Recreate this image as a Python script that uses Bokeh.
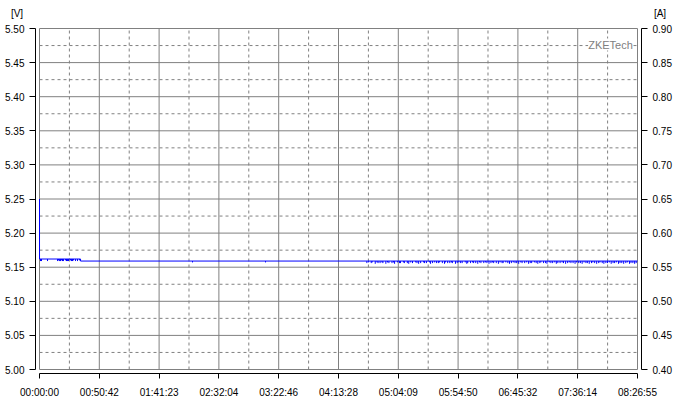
from bokeh.plotting import figure
from bokeh.models import Range1d, LinearAxis, FixedTicker, Label, NumeralTickFormatter
from bokeh.embed import file_html
from bokeh.resources import INLINE

# ---------------- data ----------------
time_labels = ["00:00:00", "00:50:42", "01:41:23", "02:32:04", "03:22:46", "04:13:28",
               "05:04:09", "05:54:50", "06:45:32", "07:36:14", "08:26:55"]
volt_ticks = [5.00, 5.05, 5.10, 5.15, 5.20, 5.25, 5.30, 5.35, 5.40, 5.45, 5.50]
amp_ticks = [0.40, 0.45, 0.50, 0.55, 0.60, 0.65, 0.70, 0.75, 0.80, 0.85, 0.90]
left_unit = "[V]"
right_unit = "[A]"
watermark = "ZKETech"

# voltage trace (minutes, volts)
volt_time_min = [0.0, 0.02, 34.8, 34.8, 506.9]
volt_values = [5.250, 5.162, 5.162, 5.159, 5.159]

# short downward spikes (minute, volts) on the early level (5.162)
early_spikes = [(0.85, 5.159), (1.7, 5.159), (6.8, 5.159), (15.3, 5.159), (16.1, 5.160),
                (16.9, 5.159), (17.8, 5.159), (18.6, 5.160), (19.5, 5.159), (20.3, 5.159),
                (22.0, 5.160), (22.9, 5.159), (23.7, 5.159), (24.6, 5.159), (26.3, 5.160),
                (27.1, 5.159), (28.0, 5.159), (28.8, 5.160), (30.5, 5.159), (32.2, 5.159),
                (33.9, 5.160)]
# spikes on the main level (5.159)
main_spikes = [(129.7, 5.157), (191.6, 5.157),
               (277.5, 5.156), (279.0, 5.157), (281.2, 5.156), (282.0, 5.157), (284.6, 5.155),
               (286.1, 5.157), (287.0, 5.156), (288.7, 5.156), (290.3, 5.157), (291.1, 5.156),
               (293.6, 5.155), (295.0, 5.157), (296.2, 5.156), (298.8, 5.156), (300.1, 5.157),
               (301.0, 5.155), (303.4, 5.157), (305.2, 5.156), (306.0, 5.156), (308.5, 5.157),
               (309.3, 5.156), (311.8, 5.156), (313.0, 5.155), (314.7, 5.157), (316.2, 5.156),
               (318.9, 5.157), (320.0, 5.156), (321.4, 5.155), (323.1, 5.156), (325.6, 5.157),
               (326.4, 5.156), (328.0, 5.156), (330.7, 5.157), (331.5, 5.155), (333.2, 5.156),
               (335.0, 5.157), (336.6, 5.156), (338.1, 5.156), (339.0, 5.157), (341.5, 5.156),
               (343.3, 5.155), (344.1, 5.157), (346.0, 5.156), (347.8, 5.156), (349.2, 5.157),
               (350.0, 5.156), (352.6, 5.155), (354.1, 5.156), (355.5, 5.157), (357.0, 5.156),
               (358.3, 5.156), (360.9, 5.157), (362.2, 5.155), (363.0, 5.156), (365.4, 5.156),
               (367.1, 5.157), (368.0, 5.156), (369.8, 5.156), (371.5, 5.155), (373.0, 5.157),
               (374.2, 5.156), (376.6, 5.156), (378.0, 5.157), (379.3, 5.156), (381.0, 5.155),
               (382.7, 5.156), (384.1, 5.157), (385.0, 5.156), (387.2, 5.156), (389.0, 5.155),
               (390.4, 5.157), (392.1, 5.156), (393.0, 5.156), (395.3, 5.157), (397.0, 5.156),
               (398.4, 5.155), (400.0, 5.156), (401.6, 5.157), (403.1, 5.156), (404.5, 5.156),
               (406.2, 5.155), (408.0, 5.157), (409.1, 5.156), (411.3, 5.156), (413.0, 5.157),
               (414.6, 5.155), (416.0, 5.156), (417.2, 5.156), (419.5, 5.157), (421.0, 5.156),
               (422.4, 5.155), (424.1, 5.156), (425.0, 5.157), (427.3, 5.156), (429.0, 5.156),
               (430.2, 5.155), (432.1, 5.157), (433.5, 5.156), (435.0, 5.156), (436.8, 5.157),
               (438.1, 5.155), (439.4, 5.156), (441.3, 5.156), (443.0, 5.157), (444.2, 5.156),
               (446.0, 5.155), (447.7, 5.156), (449.1, 5.157), (450.5, 5.156), (452.3, 5.156),
               (454.0, 5.155), (455.2, 5.157), (457.1, 5.156), (458.5, 5.156), (460.0, 5.155),
               (461.6, 5.157), (463.2, 5.156), (464.4, 5.156), (466.0, 5.155), (467.9, 5.156),
               (469.1, 5.157), (470.6, 5.156), (472.3, 5.155), (474.0, 5.156), (475.1, 5.157),
               (477.0, 5.156), (478.4, 5.155), (480.1, 5.156), (481.5, 5.156), (483.0, 5.157),
               (484.6, 5.155), (486.2, 5.156), (487.5, 5.156), (489.0, 5.157), (490.8, 5.155),
               (492.1, 5.156), (493.6, 5.156), (495.2, 5.155), (497.0, 5.156), (498.3, 5.157),
               (500.1, 5.155), (501.4, 5.156), (503.0, 5.156), (504.5, 5.155), (505.8, 5.156)]
early_level = 5.162
main_level = 5.159

# ---------------- helpers ----------------
def hms(s):
    h, m, sec = (int(v) for v in s.split(":"))
    return h * 3600 + m * 60 + sec

x_ticks = [hms(s) for s in time_labels]
T = x_ticks[-1]
x_mid = [(a + b) / 2 for a, b in zip(x_ticks[:-1], x_ticks[1:])]
y_mid = [(a + b) / 2 for a, b in zip(volt_ticks[:-1], volt_ticks[1:])]
V0, V1 = volt_ticks[0], volt_ticks[-1]
A0 = amp_ticks[0]
offset = V0 - A0

FONT = "Liberation Sans"

# geometry: 598 px for time span, 682 px per volt
px_t = T / 598.0
px_v = 1 / 682.0
x_range = Range1d(-4 * px_t, T + 4 * px_t)
y_range = Range1d(V0 - 4 * px_v, V1 + 1 * px_v)

p = figure(frame_width=606, frame_height=346, x_range=x_range, y_range=y_range,
           output_backend="svg", toolbar_location=None,
           x_axis_location=None, y_axis_location=None,
           min_border_left=35, min_border_right=36, min_border_top=27, min_border_bottom=30)
p.outline_line_color = None
p.xgrid.visible = False
p.ygrid.visible = False
p.background_fill_color = "white"
p.border_fill_color = "white"

GRID = "#808080"
# dashed minor grid
p.segment(x0=x_mid, y0=[V0] * len(x_mid), x1=x_mid, y1=[V1] * len(x_mid),
          line_color=GRID, line_width=1, line_dash="3 3")
p.segment(x0=[0] * len(y_mid), y0=y_mid, x1=[T] * len(y_mid), y1=y_mid,
          line_color=GRID, line_width=1, line_dash="3 3")
# solid major grid
p.segment(x0=x_ticks, y0=[V0] * len(x_ticks), x1=x_ticks, y1=[V1] * len(x_ticks),
          line_color=GRID, line_width=1)
p.segment(x0=[0] * len(volt_ticks), y0=volt_ticks, x1=[T] * len(volt_ticks), y1=volt_ticks,
          line_color=GRID, line_width=1)

# data
BLUE = "#0000ff"
p.line([m * 60 for m in volt_time_min], volt_values, line_color=BLUE, line_width=1)
et = [t * 60 for t, v in early_spikes]
p.segment(x0=et, y0=[early_level] * len(et), x1=et, y1=[v for t, v in early_spikes],
          line_color=BLUE, line_width=1)
mt = [t * 60 for t, v in main_spikes]
p.segment(x0=mt, y0=[main_level] * len(mt), x1=mt, y1=[v for t, v in main_spikes],
          line_color=BLUE, line_width=1)

# axes
def style(ax, tick_out, standoff):
    ax.axis_line_color = "black"
    ax.major_tick_line_color = "black"
    ax.minor_tick_line_color = None
    ax.major_tick_in = 0
    ax.major_tick_out = tick_out
    ax.major_label_standoff = standoff
    ax.major_label_text_font = FONT
    ax.major_label_text_font_size = "10px"
    ax.major_label_text_color = "black"

xa = LinearAxis(ticker=FixedTicker(ticks=x_ticks), bounds=(0, T))
xa.major_label_overrides = {t: s for t, s in zip(x_ticks, time_labels)}
style(xa, 5, 8)
p.add_layout(xa, "below")

ya = LinearAxis(ticker=FixedTicker(ticks=volt_ticks), bounds=(V0, V1),
                formatter=NumeralTickFormatter(format="0.00"))
style(ya, 6, 5)
p.add_layout(ya, "left")

p.extra_y_ranges = {"amp": Range1d(y_range.start - offset, y_range.end - offset)}
ra = LinearAxis(y_range_name="amp", ticker=FixedTicker(ticks=amp_ticks),
                bounds=(amp_ticks[0], amp_ticks[-1]),
                formatter=NumeralTickFormatter(format="0.00"))
style(ra, 6, 5)
p.add_layout(ra, "right")

# unit labels sit above the frame (side panel, so they are not clipped)
p.add_layout(Label(x=-22.5 * px_t, y=V1 + 15 * px_v, text=left_unit, text_font=FONT,
                   text_font_size="10px", text_align="center", text_baseline="middle",
                   text_color="black"), "above")
p.add_layout(Label(x=T + 22.5 * px_t, y=V1 + 15 * px_v, text=right_unit, text_font=FONT,
                   text_font_size="10px", text_align="center", text_baseline="middle",
                   text_color="black"), "above")

p.add_layout(Label(x=T - 27 * px_t, y=V1 - 16 * px_v, text=watermark, text_font=FONT,
                   text_font_size="11px", text_align="center", text_baseline="middle",
                   text_color="#808080", background_fill_color="white"))

open("out.html", "w").write(file_html(p, INLINE))
